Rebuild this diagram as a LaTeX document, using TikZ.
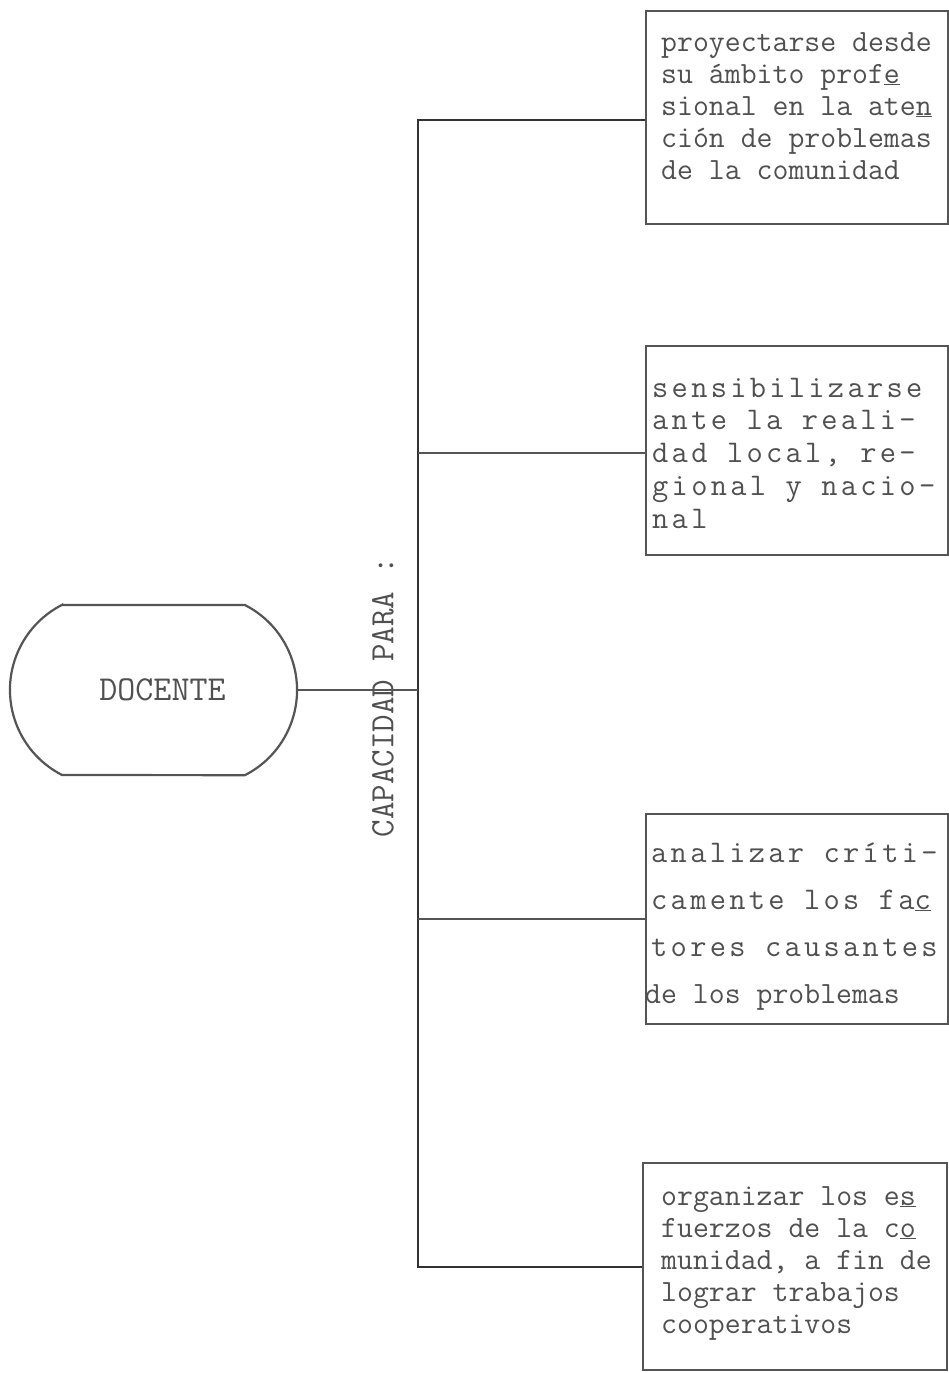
\documentclass[tikz,border=0pt]{standalone}
\usepackage{fontspec}
\setmonofont{Latin Modern Mono}
\newfontfamily\widett[LetterSpace=10.5]{Latin Modern Mono}
\definecolor{linec}{RGB}{85,85,85}
\definecolor{darkline}{RGB}{50,50,50}
\definecolor{txtc}{RGB}{80,80,80}
\newcommand\boxlines[3]{\parbox[t]{340pt}{\fontsize{#1}{#2}\selectfont\raggedright #3}}
\newcommand\boxlineswide[3]{\parbox[t]{340pt}{\widett\fontsize{#1}{#2}\selectfont\raggedright #3}}
\begin{document}
\begin{tikzpicture}[x=1pt,y=-1pt,
  ln/.style={draw=linec, line width=2.2pt},
  vln/.style={draw=darkline, line width=2.2pt, line join=miter},
  boxst/.style={draw=linec, line width=2.4pt, rectangle, inner sep=0pt, anchor=north west},
  txt/.style={text=txtc, anchor=base west, inner sep=0pt, font=\ttfamily}]
\useasboundingbox (0,0) rectangle (949,1373);
\fill[white] (0,0) rectangle (949,1373);

% boxes
\node[boxst, minimum width=302pt, minimum height=213pt] (b1) at (645,10) {};
\node[boxst, minimum width=302pt, minimum height=209pt] (b2) at (645,345) {};
\node[boxst, minimum width=302pt, minimum height=210pt] (b3) at (645,813) {};
\node[boxst, minimum width=304pt, minimum height=207pt] (b4) at (642,1162) {};

% texts
\node[txt] (t1) at (661,51) {\boxlines{30.9}{32}{proyectarse desde\\
su ámbito prof\underline{e}\\
sional en la ate\underline{n}\\
ción de problemas\\
de la comunidad}};
\node[txt] (t2) at (652,397) {\boxlineswide{31.5}{32.8}{sensibilizarse\\
ante la reali-\\
dad local, re-\\
gional y nacio-\\
nal}};
\node[txt] (t3) at (651,862) {\boxlineswide{31.5}{47}{analizar críti-\\
camente los fa\underline{c}\\
tores causantes\\
\hspace*{-6pt}{\ttfamily\fontsize{30.9}{47}\selectfont de los problemas}}};
\node[txt] (t4) at (661,1205) {\boxlines{30.9}{32}{organizar los e\underline{s}\\
fuerzos de la c\underline{o}\\
munidad, a fin de\\
lograr trabajos\\
cooperativos}};

% DOCENTE
\node[text=txtc, font=\ttfamily\fontsize{35}{35}\selectfont, minimum width=287pt, minimum height=170pt, inner sep=0pt] (doc) at (153.5,690) {\hspace{18pt}DOCENTE};
\draw[ln] (62.1,605) -- (244.9,605) arc[start angle=-63, end angle=63, radius=95.5]
  -- (62.1,775) arc[start angle=117, end angle=243, radius=95.5] -- cycle;

% label
\node[text=txtc, font=\ttfamily\fontsize{34}{34}\selectfont, rotate=90, inner sep=0pt] (cap) at (383,697) {CAPACIDAD PARA :};

% connectors
\coordinate (jtop) at (418,120);
\coordinate (j2) at (418,453);
\coordinate (j3) at (418,919);
\coordinate (jbot) at (418,1267);
\draw[vln] (b1.west |- jtop) -- (jtop) -- (jbot) -- (b4.west |- jbot);
\draw[ln] (j2) -- (b2.west |- j2);
\draw[ln] (j3) -- (b3.west |- j3);
\draw[ln] (doc.east) -- (doc.east -| jtop);
\end{tikzpicture}
\end{document}
